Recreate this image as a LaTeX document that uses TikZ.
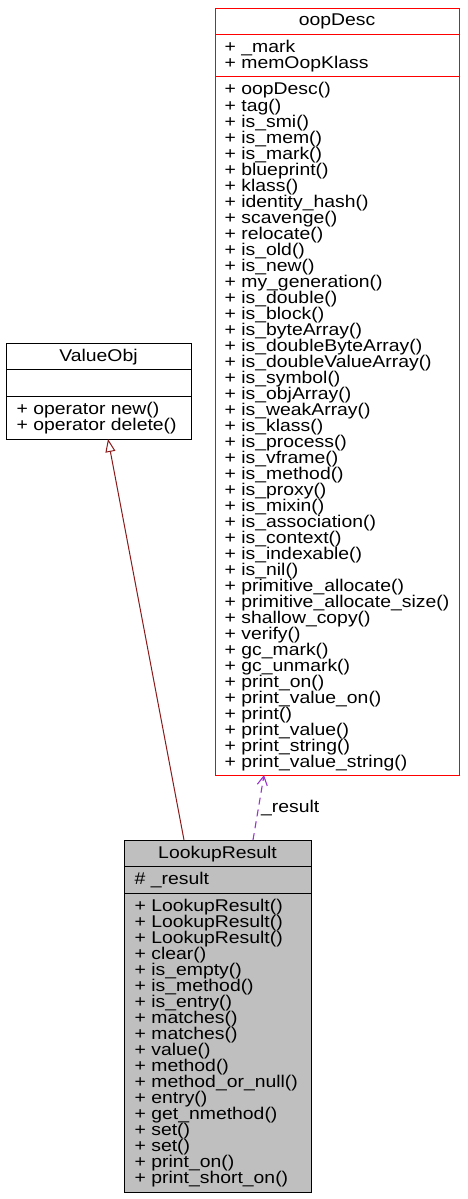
\documentclass[tikz,border=0pt]{standalone}
\usepackage{fontspec}
\setmainfont{Liberation Sans}[FakeStretch=1.14]
\usetikzlibrary{arrows.meta}
\definecolor{boxred}{HTML}{FF0000}
\definecolor{edgered}{HTML}{8B1A1A}
\definecolor{edgepurple}{HTML}{9A32CD}
\definecolor{fillgray}{HTML}{BFBFBF}
\begin{document}
\begin{tikzpicture}[x=1pt,y=-1pt,
  umlbox/.style={draw, line width=0.9pt, inner sep=0pt, outer sep=0pt, anchor=north west},
  sepline/.style={line width=0.9pt},
  txt/.style={anchor=base west, inner sep=0pt, text height=12pt, text depth=3.5pt, font=\fontsize{17}{16}\selectfont},
  ttl/.style={anchor=base, inner sep=0pt, text height=12pt, text depth=3.5pt, font=\fontsize{17}{16}\selectfont},
  inh/.style={draw=edgered, line width=1pt, -{Triangle[open,length=13pt,width=10pt]}},
  dep/.style={draw=edgepurple, line width=1.1pt, dash pattern=on 7pt off 5pt, -{Straight Barb[length=9pt,width=10pt]}}
]
\useasboundingbox (0,0) rectangle (468,1199);

% ---------- oopDesc ----------
\node[umlbox, draw=boxred, minimum width=244pt, minimum height=767pt] (od) at (215,8) {};
\draw[sepline, boxred] ([yshift=-26pt]od.north west) -- ([yshift=-26pt]od.north east);
\draw[sepline, boxred] ([yshift=-68.7pt]od.north west) -- ([yshift=-68.7pt]od.north east);
\node[ttl] (odt) at (337,26) {oopDesc};
\node[txt] (oda1) at (224.5,52.3) {+ \_mark};
\node[txt] (oda2) at (224.5,68.3) {+ memOopKlass};
\foreach \t [count=\i from 0] in {oopDesc(), tag(), is\_smi(), is\_mem(), is\_mark(), blueprint(), klass(), identity\_hash(), scavenge(), relocate(), is\_old(), is\_new(), my\_generation(), is\_double(), is\_block(), is\_byteArray(), is\_doubleByteArray(), is\_doubleValueArray(), is\_symbol(), is\_objArray(), is\_weakArray(), is\_klass(), is\_process(), is\_vframe(), is\_method(), is\_proxy(), is\_mixin(), is\_association(), is\_context(), is\_indexable(), is\_nil(), primitive\_allocate(), primitive\_allocate\_size(), shallow\_copy(), verify(), gc\_mark(), gc\_unmark(), print\_on(), print\_value\_on(), print(), print\_value(), print\_string(), print\_value\_string()}
  \node[txt] (odm\i) at (224.5,95+16*\i) {+ \t};

% ---------- ValueObj ----------
\node[umlbox, minimum width=185pt, minimum height=95.7pt] (vo) at (6,343.3) {};
\draw[sepline] ([yshift=-26pt]vo.north west) -- ([yshift=-26pt]vo.north east);
\draw[sepline] ([yshift=-53.4pt]vo.north west) -- ([yshift=-53.4pt]vo.north east);
\node[ttl] (vot) at (98.5,361.3) {ValueObj};
\node[txt] (vom1) at (16.5,414.6) {+ operator new()};
\node[txt] (vom2) at (16.5,430.6) {+ operator delete()};

% ---------- LookupResult ----------
\node[umlbox, fill=fillgray, minimum width=187pt, minimum height=352pt] (lr) at (124,840) {};
\draw[sepline] ([yshift=-26.3pt]lr.north west) -- ([yshift=-26.3pt]lr.north east);
\draw[sepline] ([yshift=-53pt]lr.north west) -- ([yshift=-53pt]lr.north east);
\node[ttl] (lrt) at (217.5,858) {LookupResult};
\node[txt] (lra1) at (134.5,884.3) {\# \_result};
\foreach \t [count=\i from 0] in {LookupResult(), LookupResult(), LookupResult(), clear(), is\_empty(), is\_method(), is\_entry(), matches(), matches(), value(), method(), method\_or\_null(), entry(), get\_nmethod(), set(), set(), print\_on(), print\_short\_on()}
  \node[txt] (lrm\i) at (134.5,911.3+16*\i) {+ \t};

% ---------- connectors ----------
\draw[inh] ([xshift=60pt]lr.north west) -- ([xshift=102pt]vo.south west);
\draw[dep] ([xshift=129pt]lr.north west) -- ([xshift=49pt]od.south west);
\node[txt] (lbl) at (261,812) {\_result};
\end{tikzpicture}
\end{document}
